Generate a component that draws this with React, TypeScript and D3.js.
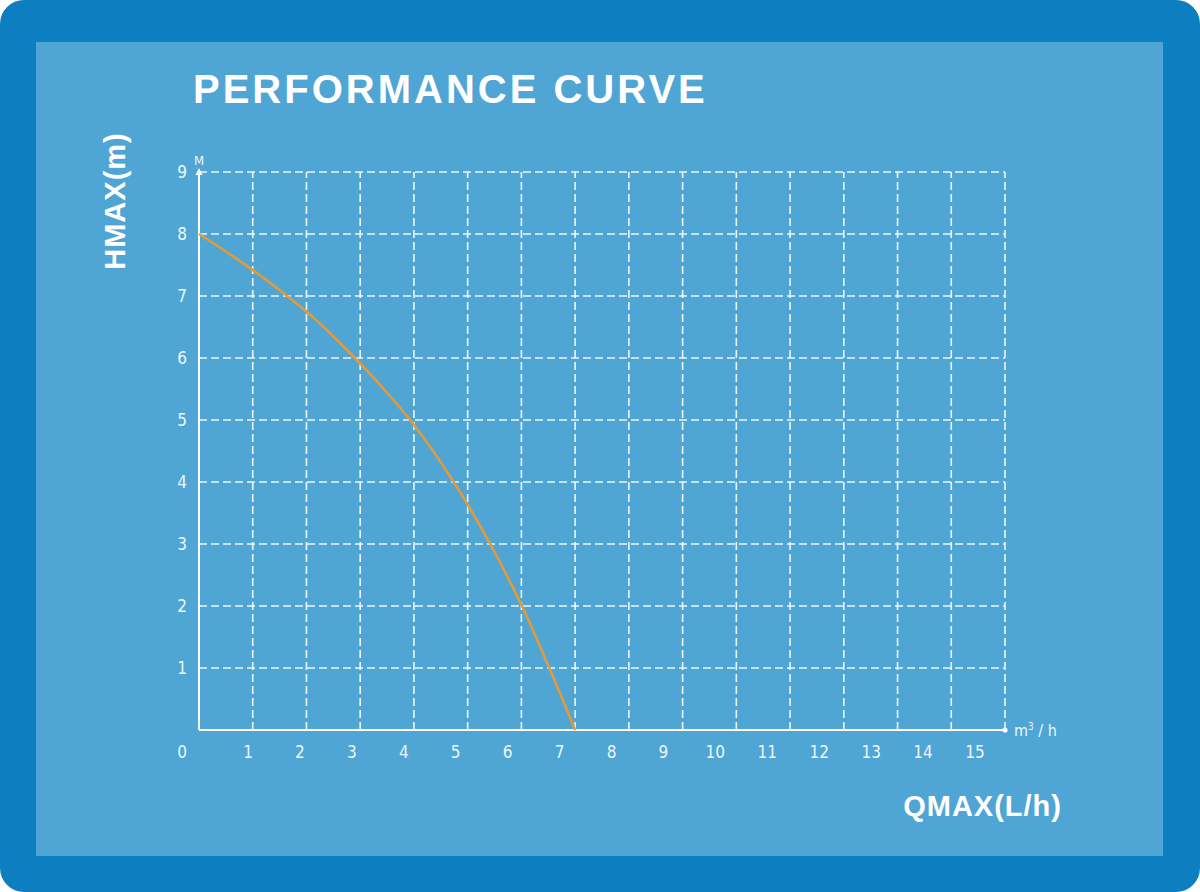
import * as d3 from "d3";

// Performance curve of the pump: head (m) against flow (m3/h)
const flow = [0, 0.95, 1.64, 1.97, 2.9, 3.46, 3.93, 4.74, 5.42, 6.01, 6.52, 7];
const head = [8, 7.45, 7, 6.77, 6, 5.48, 5, 4, 3, 2, 1, 0];

const xTicks = d3.range(1, 16); // 1..15
const yTicks = d3.range(1, 10); // 1..9

const W = 1200;
const H = 892;

const tickFont = "'DejaVu Sans', sans-serif";
const boldFont = "'Liberation Sans', Arial, sans-serif";

export default function App() {
  // Define scales
  const xScale = d3.scaleLinear().domain([0, 15]).range([199, 1005]);
  const yScale = d3.scaleLinear().domain([0, 9]).range([730, 172]);
  // the printed x labels drift a little left of the grid lines
  const xLabel = d3.scaleLinear().domain([1, 15]).range([248, 975]);
  const yLabelX = 182;

  const line = d3
    .line<number>()
    .x((d) => xScale(d))
    .y((d, i) => yScale(head[i]))
    .curve(d3.curveMonotoneX);

  const gridStyle = {
    stroke: "#ffffff",
    strokeOpacity: 0.9,
    strokeWidth: 1.6,
    strokeDasharray: "8,4",
  };

  const tickStyle = {
    fill: "#eef7fb",
    fontFamily: tickFont,
    fontSize: 17,
    fontStretch: "condensed",
  } as const;

  const [x0, x1] = xScale.range();
  const [y0, y1] = yScale.range();

  return (
    <svg
      width={W}
      height={H}
      style={{ position: "absolute", left: 0, top: 0, display: "block" }}
    >
      {/* frame */}
      <rect x={0} y={0} width={W} height={H} fill="#ffffff" />
      <rect x={0} y={0} width={W} height={H} rx={24} fill="#0d7fc1" />
      <rect x={36} y={42} width={1127} height={814} fill="#4fa6d4" />

      {/* title */}
      <text
        x={193}
        y={103}
        fill="#ffffff"
        fontFamily={boldFont}
        fontWeight="bold"
        fontSize={40}
        letterSpacing={3}
      >
        PERFORMANCE CURVE
      </text>

      {/* horizontal grid */}
      {yTicks.map((t) => (
        <line key={"h" + t} x1={x0} x2={x1} y1={yScale(t)} y2={yScale(t)} style={gridStyle} />
      ))}
      {/* vertical grid */}
      {xTicks.map((t) => (
        <line key={"v" + t} x1={xScale(t)} x2={xScale(t)} y1={y0} y2={y1} style={gridStyle} />
      ))}

      {/* axes */}
      <line x1={x0} x2={x0} y1={y0} y2={y1} stroke="#ffffff" strokeWidth={2} />
      <line x1={x0} x2={x1} y1={y0} y2={y0} stroke="#ffffff" strokeWidth={2} />
      <path
        d={`M${x0},${y1 - 4} L${x0 - 3.5},${y1 + 3} L${x0 + 3.5},${y1 + 3} Z`}
        fill="#ffffff"
      />
      <circle cx={x1} cy={y0} r={2.6} fill="#ffffff" />

      {/* y tick labels */}
      {yTicks.map((t) => (
        <text
          key={"yl" + t}
          x={yLabelX}
          y={yScale(t)}
          dy="0.36em"
          textAnchor="middle"
          style={tickStyle}
        >
          {t}
        </text>
      ))}
      {/* x tick labels */}
      <text x={yLabelX} y={752} dy="0.36em" textAnchor="middle" style={tickStyle}>
        0
      </text>
      {xTicks.map((t) => (
        <text
          key={"xl" + t}
          x={xLabel(t)}
          y={752}
          dy="0.36em"
          textAnchor="middle"
          style={tickStyle}
        >
          {t}
        </text>
      ))}

      {/* unit labels */}
      <text
        x={x0}
        y={y1 - 7}
        textAnchor="middle"
        style={{ ...tickStyle, fontSize: 13 }}
      >
        M
      </text>
      <text x={x1 + 9} y={y0 + 6} style={{ ...tickStyle, fontSize: 16 }}>
        m
        <tspan dy={-6} fontSize={10}>
          3
        </tspan>
        <tspan dy={6}> / h</tspan>
      </text>

      {/* axis titles */}
      <text
        transform="translate(125,201) rotate(-90)"
        textAnchor="middle"
        fill="#ffffff"
        fontFamily={boldFont}
        fontWeight="bold"
        fontSize={29}
        letterSpacing={1}
      >
        HMAX(m)
      </text>
      <text
        x={1062}
        y={816}
        textAnchor="end"
        fill="#ffffff"
        fontFamily={boldFont}
        fontWeight="bold"
        fontSize={29}
        letterSpacing={1}
      >
        QMAX(L/h)
      </text>

      {/* curve */}
      <path
        d={line(flow) ?? ""}
        fill="none"
        stroke="#e39a3b"
        strokeWidth={2.6}
      />
    </svg>
  );
}
